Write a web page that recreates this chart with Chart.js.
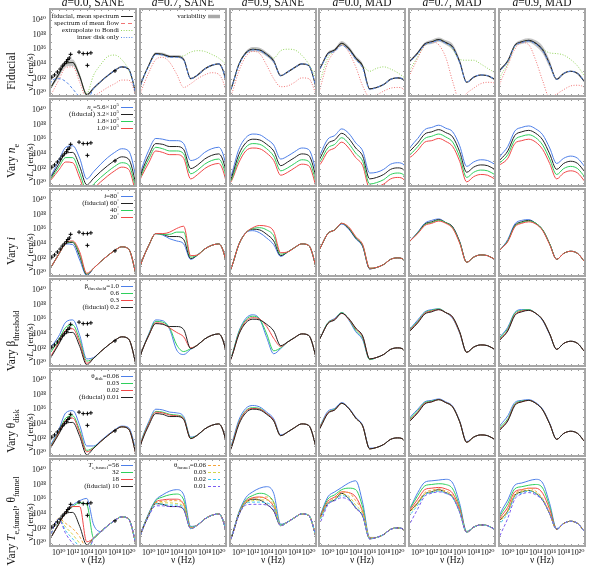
<!DOCTYPE html>
<html>
<head>
<meta charset="utf-8">
<script src="https://cdn.jsdelivr.net/npm/chart.js@4.4.0/dist/chart.umd.min.js"></script>
<style>
body { margin: 0; background: #fff; }
#wrap { position: relative; width: 598px; height: 567px; overflow: hidden; background: #fff;
  font-family: "Liberation Serif", "DejaVu Serif", serif; color: #111; }
#wrap canvas { position: absolute; }
.txt { position: absolute; white-space: nowrap; line-height: 1; }
.rot { transform: translate(-50%, -50%) rotate(-90deg); }
.ctr { transform: translateX(-50%); }
.txt sub, .txt sup, .leg sub, .leg sup { font-size: 70%; line-height: 0; }
.leg { position: absolute; white-space: nowrap; font-size: 7px; line-height: 7px; text-align: right; }
</style>
</head>
<body>
<div id="wrap"></div>
<script>
// log10(nu / Hz) sample points shared by every curve
const logNu = [8.6, 9, 10, 11, 12, 13, 14, 15, 16, 17, 18, 19, 20, 21, 21.2];

// each array below: one row per column (a=0.0 SANE ... a=0.9 MAD), values are log10(nu L_nu)
const fiducial = [
  [30.4, 31.0, 32.6, 34.1, 34.2, 32.3, 29.8, 30.7, 31.6, 32.4, 33.1, 33.6, 33.3, 30.0, 29.0],
  [30.4, 31.6, 33.8, 35.4, 35.3, 35.0, 35.0, 34.6, 32.0, 32.5, 33.3, 33.8, 34.0, 31.8, 30.5],
  [30.0, 30.9, 33.9, 35.5, 36.0, 35.9, 35.3, 34.4, 32.4, 32.9, 33.5, 34.0, 33.8, 31.0, 30.0],
  [32.9, 33.6, 35.4, 35.9, 36.8, 36.1, 34.8, 33.7, 30.6, 30.8, 31.2, 31.9, 32.1, 31.7, 30.5],
  [34.1, 34.5, 35.5, 36.7, 37.0, 37.3, 36.9, 36.3, 34.3, 31.5, 32.2, 32.5, 32.4, 31.9, 31.8],
  [32.9, 33.3, 34.4, 36.5, 37.0, 37.2, 36.8, 35.9, 34.0, 31.9, 32.7, 33.0, 32.7, 31.6, 31.4]
];
const meanFlow = [
  [29.3, 30.0, 31.8, 33.5, 33.6, 31.5, 29.3, 29.6, 30.2, 30.8, 31.3, 31.8, 31.8, 29.8, 29.0],
  [29.4, 30.5, 32.8, 34.6, 34.9, 34.2, 32.6, 30.8, 31.3, 32.0, 32.5, 32.8, 32.6, 30.5, 29.5],
  [29.4, 30.0, 33.0, 35.0, 35.7, 35.4, 33.8, 32.0, 30.9, 31.0, 31.5, 32.1, 32.0, 30.0, 29.4],
  [29.5, 31.0, 34.2, 35.7, 36.6, 35.6, 33.6, 31.0, 29.5, 29.8, 30.3, 30.7, 30.8, 30.4, 30.0],
  [32.0, 32.8, 34.8, 36.5, 37.0, 36.6, 34.9, 31.6, 29.0, 30.0, 30.7, 31.3, 31.5, 31.4, 31.2],
  [30.5, 31.6, 33.8, 36.0, 36.9, 36.6, 34.5, 31.7, 29.4, 29.9, 30.5, 31.0, 31.1, 30.8, 30.6]
];
const bondi = [
  [30.4, 31.0, 32.6, 34.1, 34.2, 32.3, 30.0, 32.5, 33.9, 35.0, 35.2, 34.6, 33.2, 30.5, 29.8],
  [30.4, 31.6, 33.8, 35.4, 35.3, 35.0, 35.0, 35.1, 35.6, 35.8, 35.7, 35.3, 34.8, 34.0, 33.8],
  [30.0, 30.9, 33.9, 35.5, 36.0, 35.9, 35.3, 34.8, 35.8, 36.0, 35.9, 35.2, 34.0, 32.2, 31.8],
  [30.8, 32.0, 34.8, 35.8, 36.7, 36.0, 34.8, 33.8, 33.0, 33.4, 33.6, 33.3, 32.8, 32.1, 31.9],
  [32.8, 33.4, 35.0, 36.5, 37.0, 37.3, 36.9, 36.0, 34.6, 34.5, 34.5, 34.0, 33.4, 32.8, 32.6],
  [31.4, 32.4, 34.0, 36.3, 37.0, 37.2, 36.8, 36.0, 35.5, 35.4, 35.2, 34.6, 33.7, 32.3, 32.0]
];
const innerDisk = [
  [30.6, 31.7, 32.0, 31.6, 30.6, 29.5, 29.0, 30.7, 31.6, 32.4, 33.1, 33.6, 33.3, 30.0, 29.0],
  [30.4, 31.6, 33.7, 35.3, 35.2, 34.9, 34.9, 34.5, 32.0, 32.5, 33.3, 33.8, 34.0, 31.8, 30.5],
  [30.0, 30.9, 33.8, 35.4, 35.9, 35.8, 35.2, 34.3, 32.4, 32.9, 33.5, 34.0, 33.8, 31.0, 30.0],
  [32.8, 33.5, 35.3, 35.7, 36.5, 35.9, 34.6, 33.4, 30.5, 30.8, 31.2, 31.9, 32.1, 31.7, 30.5],
  [34.0, 34.4, 35.4, 36.6, 36.9, 37.2, 36.8, 36.2, 34.2, 31.5, 32.2, 32.5, 32.4, 31.9, 31.8],
  [32.8, 33.2, 34.3, 36.4, 36.9, 37.1, 36.7, 35.8, 33.9, 31.9, 32.7, 33.0, 32.7, 31.6, 31.4]
];
const bandLow = [
  [30.3, 30.8, 32.2, 33.6, 33.7, 31.9, 29.6, 30.6, 31.5, 32.3, 33.0, 33.5, 33.2, 29.9, 28.9],
  [30.4, 31.5, 33.6, 35.2, 35.1, 34.8, 34.8, 34.4, 31.9, 32.4, 33.2, 33.7, 33.9, 31.7, 30.4],
  [30.0, 30.8, 33.7, 35.3, 35.7, 35.6, 35.0, 34.1, 32.3, 32.8, 33.4, 33.9, 33.7, 30.9, 29.9],
  [32.8, 33.5, 35.2, 35.7, 36.5, 35.8, 34.5, 33.4, 30.5, 30.7, 31.1, 31.8, 32.0, 31.6, 30.4],
  [34.0, 34.4, 35.3, 36.5, 36.7, 37.0, 36.6, 35.9, 34.0, 31.4, 32.1, 32.4, 32.3, 31.8, 31.7],
  [32.8, 33.2, 34.2, 36.3, 36.7, 36.9, 36.4, 35.4, 33.5, 31.8, 32.6, 32.9, 32.6, 31.5, 31.3]
];
const bandHigh = [
  [30.5, 31.2, 33.0, 34.5, 34.6, 32.7, 30.0, 30.8, 31.7, 32.5, 33.2, 33.7, 33.4, 30.1, 29.1],
  [30.4, 31.7, 34.0, 35.6, 35.5, 35.2, 35.2, 34.8, 32.1, 32.6, 33.4, 33.9, 34.1, 31.9, 30.6],
  [30.0, 31.0, 34.1, 35.7, 36.3, 36.2, 35.6, 34.7, 32.5, 33.0, 33.6, 34.1, 33.9, 31.1, 30.1],
  [33.0, 33.7, 35.6, 36.1, 37.1, 36.4, 35.1, 34.0, 30.7, 30.9, 31.3, 32.0, 32.2, 31.8, 30.6],
  [34.2, 34.6, 35.7, 36.9, 37.3, 37.6, 37.2, 36.7, 34.6, 31.6, 32.3, 32.6, 32.5, 32.0, 31.9],
  [33.0, 33.4, 34.6, 36.7, 37.3, 37.5, 37.2, 36.4, 34.5, 32.0, 32.8, 33.1, 32.8, 31.7, 31.5]
];

// n_e = 5.6e5, 1.8e5, 1.0e5
const neHigh = [
  [30.5, 31.2, 33.1, 34.9, 35.1, 33.4, 30.6, 31.6, 32.6, 33.5, 34.2, 34.7, 34.4, 31.0, 29.9],
  [30.6, 32.0, 34.5, 36.1, 36.0, 35.8, 35.8, 35.4, 33.1, 33.4, 34.2, 34.7, 34.9, 32.6, 31.2],
  [30.2, 31.3, 34.6, 36.2, 36.7, 36.6, 36.0, 35.2, 33.3, 33.7, 34.3, 34.8, 34.6, 31.8, 30.8],
  [33.2, 34.1, 36.0, 36.5, 37.4, 36.8, 35.5, 34.4, 31.4, 31.5, 31.9, 32.6, 32.8, 32.4, 31.2],
  [34.4, 35.0, 36.1, 37.3, 37.6, 37.9, 37.5, 37.0, 35.1, 32.3, 32.9, 33.2, 33.1, 32.6, 32.5],
  [33.2, 33.8, 35.0, 37.1, 37.6, 37.8, 37.4, 36.6, 34.8, 32.7, 33.4, 33.7, 33.4, 32.3, 32.1]
];
const neMid = [
  [30.3, 30.8, 32.2, 33.5, 33.5, 31.4, 29.0, 29.9, 30.8, 31.6, 32.3, 32.8, 32.5, 29.3, 28.3],
  [30.3, 31.3, 33.3, 34.9, 34.7, 34.4, 34.4, 34.0, 31.3, 31.8, 32.6, 33.1, 33.3, 31.1, 29.9],
  [29.9, 30.6, 33.3, 34.9, 35.4, 35.3, 34.7, 33.7, 31.7, 32.1, 32.7, 33.2, 33.0, 30.3, 29.4],
  [32.6, 33.1, 34.8, 35.3, 36.2, 35.4, 34.1, 33.0, 29.9, 30.1, 30.5, 31.2, 31.4, 31.0, 29.8],
  [33.8, 34.0, 35.0, 36.1, 36.4, 36.7, 36.3, 35.6, 33.6, 30.8, 31.5, 31.8, 31.7, 31.2, 31.1],
  [32.6, 32.9, 33.9, 35.9, 36.4, 36.6, 36.2, 35.2, 33.3, 31.2, 32.0, 32.3, 32.0, 30.9, 30.7]
];
const neLow = [
  [30.2, 30.6, 31.8, 32.9, 32.8, 30.7, 28.4, 29.3, 30.2, 31.0, 31.7, 32.2, 31.9, 28.7, 27.8],
  [30.2, 31.0, 32.8, 34.4, 34.2, 33.9, 33.9, 33.4, 30.6, 31.2, 32.0, 32.5, 32.7, 30.5, 29.4],
  [29.8, 30.4, 32.8, 34.4, 34.8, 34.7, 34.1, 33.1, 31.1, 31.5, 32.1, 32.6, 32.4, 29.7, 28.8],
  [32.3, 32.7, 34.3, 34.8, 35.6, 34.8, 33.5, 32.4, 29.3, 29.5, 29.9, 30.6, 30.8, 30.4, 29.2],
  [33.5, 33.6, 34.5, 35.6, 35.8, 36.1, 35.7, 35.0, 33.0, 30.2, 30.9, 31.2, 31.1, 30.6, 30.5],
  [32.4, 32.6, 33.4, 35.4, 35.8, 36.0, 35.6, 34.6, 32.7, 30.6, 31.4, 31.7, 31.4, 30.3, 30.1]
];

// inclination 80, 40, 20 deg
const incl80 = [
  [30.4, 31.0, 32.6, 34.0, 33.9, 31.8, 29.7, 30.7, 31.6, 32.4, 33.1, 33.6, 33.3, 30.0, 29.0],
  [30.4, 31.6, 33.8, 35.4, 35.2, 34.7, 34.4, 34.0, 31.9, 32.5, 33.3, 33.8, 34.0, 31.8, 30.5],
  [30.0, 30.9, 33.9, 35.5, 35.8, 35.5, 34.8, 33.9, 32.3, 32.9, 33.5, 34.0, 33.8, 31.0, 30.0],
  [32.9, 33.6, 35.4, 35.9, 36.7, 36.0, 34.7, 33.6, 30.6, 30.8, 31.2, 31.9, 32.1, 31.7, 30.5],
  [34.1, 34.5, 35.6, 36.8, 37.2, 37.4, 36.9, 36.3, 34.3, 31.5, 32.2, 32.5, 32.4, 31.9, 31.8],
  [32.9, 33.3, 34.6, 36.7, 37.2, 37.3, 36.8, 35.9, 34.0, 31.9, 32.7, 33.0, 32.7, 31.6, 31.4]
];
const incl40 = [
  [30.4, 31.0, 32.6, 34.1, 34.3, 32.6, 29.9, 30.7, 31.6, 32.4, 33.1, 33.6, 33.3, 30.0, 29.0],
  [30.4, 31.6, 33.8, 35.4, 35.3, 35.3, 35.6, 35.6, 32.2, 32.5, 33.3, 33.8, 34.0, 31.8, 30.5],
  [30.0, 30.9, 33.9, 35.5, 36.1, 36.2, 35.9, 35.1, 32.6, 32.9, 33.5, 34.0, 33.8, 31.0, 30.0],
  [32.9, 33.6, 35.4, 35.9, 36.8, 36.2, 34.9, 33.8, 30.7, 30.8, 31.2, 31.9, 32.1, 31.7, 30.5],
  [34.1, 34.5, 35.5, 36.6, 36.9, 37.2, 36.9, 36.2, 34.2, 31.5, 32.2, 32.5, 32.4, 31.9, 31.8],
  [32.9, 33.3, 34.4, 36.4, 36.9, 37.1, 36.8, 35.9, 34.0, 31.9, 32.7, 33.0, 32.7, 31.6, 31.4]
];
const incl20 = [
  [30.4, 31.0, 32.6, 34.1, 34.4, 32.9, 30.0, 30.7, 31.6, 32.4, 33.1, 33.6, 33.3, 30.0, 29.0],
  [30.4, 31.6, 33.8, 35.4, 35.4, 35.6, 36.1, 36.4, 32.4, 32.5, 33.3, 33.8, 34.0, 31.8, 30.5],
  [30.0, 30.9, 33.9, 35.5, 36.2, 36.5, 36.4, 35.7, 32.8, 32.9, 33.5, 34.0, 33.8, 31.0, 30.0],
  [32.9, 33.6, 35.4, 35.9, 36.8, 36.3, 35.0, 33.9, 30.7, 30.8, 31.2, 31.9, 32.1, 31.7, 30.5],
  [34.1, 34.5, 35.4, 36.5, 36.8, 37.1, 36.8, 36.1, 34.1, 31.5, 32.2, 32.5, 32.4, 31.9, 31.8],
  [32.9, 33.3, 34.3, 36.3, 36.8, 37.0, 36.7, 35.8, 33.9, 31.9, 32.7, 33.0, 32.7, 31.6, 31.4]
];

// beta_threshold = 1.0, 0.6, 0.3
const beta10 = [
  [32.0, 32.4, 33.7, 35.6, 35.9, 33.8, 30.6, 30.8, 31.6, 32.4, 33.1, 33.6, 33.3, 30.0, 29.0],
  [30.4, 31.6, 34.0, 35.9, 35.8, 34.6, 31.8, 31.2, 31.9, 32.5, 33.3, 33.8, 34.0, 31.8, 30.5],
  [30.0, 31.0, 34.3, 36.1, 36.6, 36.0, 33.5, 31.3, 32.0, 32.9, 33.5, 34.0, 33.8, 31.0, 30.0],
  [32.9, 33.6, 35.5, 36.1, 36.9, 35.9, 34.3, 33.2, 30.5, 30.8, 31.2, 31.9, 32.1, 31.7, 30.5],
  [34.3, 34.8, 35.9, 37.0, 37.3, 37.4, 36.9, 36.1, 34.1, 31.5, 32.2, 32.5, 32.4, 31.9, 31.8],
  [33.2, 33.7, 34.9, 36.9, 37.3, 37.3, 36.8, 35.8, 33.9, 31.9, 32.7, 33.0, 32.7, 31.6, 31.4]
];
const beta06 = [
  [31.2, 31.7, 33.2, 34.9, 35.2, 33.2, 30.3, 30.7, 31.6, 32.4, 33.1, 33.6, 33.3, 30.0, 29.0],
  [30.4, 31.6, 33.9, 35.7, 35.6, 34.8, 32.5, 31.6, 32.0, 32.5, 33.3, 33.8, 34.0, 31.8, 30.5],
  [30.0, 31.0, 34.2, 35.9, 36.4, 36.0, 34.0, 31.7, 32.1, 32.9, 33.5, 34.0, 33.8, 31.0, 30.0],
  [32.9, 33.6, 35.5, 36.0, 36.9, 36.0, 34.5, 33.4, 30.5, 30.8, 31.2, 31.9, 32.1, 31.7, 30.5],
  [34.2, 34.7, 35.7, 36.9, 37.2, 37.4, 36.9, 36.2, 34.2, 31.5, 32.2, 32.5, 32.4, 31.9, 31.8],
  [33.1, 33.6, 34.7, 36.8, 37.2, 37.3, 36.8, 35.9, 34.0, 31.9, 32.7, 33.0, 32.7, 31.6, 31.4]
];
const beta03 = [
  [30.7, 31.2, 32.8, 34.5, 34.7, 32.8, 30.0, 30.7, 31.6, 32.4, 33.1, 33.6, 33.3, 30.0, 29.0],
  [30.4, 31.6, 33.8, 35.5, 35.4, 34.8, 34.2, 33.6, 32.1, 32.5, 33.3, 33.8, 34.0, 31.8, 30.5],
  [30.0, 30.9, 34.0, 35.7, 36.2, 36.0, 35.0, 33.4, 32.3, 32.9, 33.5, 34.0, 33.8, 31.0, 30.0],
  [32.9, 33.6, 35.4, 36.0, 36.8, 36.0, 34.7, 33.6, 30.6, 30.8, 31.2, 31.9, 32.1, 31.7, 30.5],
  [34.1, 34.6, 35.6, 36.8, 37.1, 37.3, 36.9, 36.2, 34.2, 31.5, 32.2, 32.5, 32.4, 31.9, 31.8],
  [33.0, 33.4, 34.5, 36.6, 37.1, 37.2, 36.8, 35.9, 34.0, 31.9, 32.7, 33.0, 32.7, 31.6, 31.4]
];

// theta_disk = 0.06, 0.03, 0.02
const disk06 = [
  [30.7, 31.4, 33.2, 35.5, 35.8, 33.8, 31.0, 31.0, 31.7, 32.5, 33.2, 33.7, 33.5, 30.4, 29.3],
  [30.5, 31.9, 34.3, 36.0, 35.9, 35.6, 35.5, 35.0, 32.2, 32.5, 33.3, 33.8, 34.0, 31.8, 30.5],
  [30.2, 31.3, 34.5, 36.1, 36.5, 36.3, 35.6, 34.7, 32.5, 32.9, 33.5, 34.0, 33.8, 31.0, 30.0],
  [33.1, 33.9, 35.7, 36.1, 36.9, 36.2, 34.9, 33.8, 30.7, 30.8, 31.2, 31.9, 32.1, 31.7, 30.5],
  [34.5, 35.0, 36.0, 37.0, 37.2, 37.4, 37.0, 36.4, 34.4, 31.6, 32.2, 32.5, 32.4, 31.9, 31.8],
  [33.3, 33.9, 35.1, 36.9, 37.2, 37.3, 36.9, 36.0, 34.1, 31.9, 32.7, 33.0, 32.7, 31.6, 31.4]
];
const disk03 = [
  [30.5, 31.2, 32.9, 34.8, 35.1, 33.1, 30.4, 30.8, 31.6, 32.4, 33.1, 33.6, 33.3, 30.1, 29.1],
  [30.4, 31.8, 34.1, 35.7, 35.6, 35.3, 35.2, 34.8, 32.1, 32.5, 33.3, 33.8, 34.0, 31.8, 30.5],
  [30.1, 31.1, 34.2, 35.8, 36.2, 36.1, 35.4, 34.5, 32.4, 32.9, 33.5, 34.0, 33.8, 31.0, 30.0],
  [33.0, 33.8, 35.5, 36.0, 36.8, 36.1, 34.8, 33.7, 30.6, 30.8, 31.2, 31.9, 32.1, 31.7, 30.5],
  [34.3, 34.8, 35.8, 36.9, 37.1, 37.3, 36.9, 36.3, 34.3, 31.5, 32.2, 32.5, 32.4, 31.9, 31.8],
  [33.1, 33.6, 34.7, 36.7, 37.1, 37.2, 36.8, 35.9, 34.0, 31.9, 32.7, 33.0, 32.7, 31.6, 31.4]
];
const disk02 = [
  [30.5, 31.1, 32.8, 34.5, 34.8, 32.8, 30.2, 30.7, 31.6, 32.4, 33.1, 33.6, 33.3, 30.0, 29.0],
  [30.4, 31.7, 34.0, 35.6, 35.5, 35.2, 35.1, 34.7, 32.0, 32.5, 33.3, 33.8, 34.0, 31.8, 30.5],
  [30.0, 31.0, 34.1, 35.7, 36.1, 36.0, 35.4, 34.5, 32.4, 32.9, 33.5, 34.0, 33.8, 31.0, 30.0],
  [33.0, 33.7, 35.5, 35.9, 36.8, 36.1, 34.8, 33.7, 30.6, 30.8, 31.2, 31.9, 32.1, 31.7, 30.5],
  [34.2, 34.6, 35.6, 36.8, 37.0, 37.3, 36.9, 36.3, 34.3, 31.5, 32.2, 32.5, 32.4, 31.9, 31.8],
  [33.0, 33.4, 34.5, 36.6, 37.0, 37.2, 36.8, 35.9, 34.0, 31.9, 32.7, 33.0, 32.7, 31.6, 31.4]
];

// T_e,funnel = 56, 32, 18
const funnelT56 = [
  [30.4, 31.0, 32.7, 34.3, 35.2, 35.8, 36.1, 32.5, 31.6, 32.4, 33.1, 33.6, 33.3, 30.0, 29.0],
  [30.4, 31.7, 34.1, 35.9, 36.6, 37.1, 37.3, 36.6, 32.3, 32.5, 33.3, 33.8, 34.0, 31.8, 30.5],
  [30.0, 31.0, 34.2, 36.2, 37.0, 37.5, 37.7, 36.8, 32.6, 32.9, 33.5, 34.0, 33.8, 31.0, 30.0],
  [33.0, 34.0, 36.3, 37.0, 37.6, 38.2, 38.5, 35.5, 30.8, 30.8, 31.2, 31.9, 32.1, 31.7, 30.5],
  [34.4, 35.0, 36.9, 38.3, 38.5, 38.6, 38.7, 38.2, 35.4, 31.6, 32.2, 32.5, 32.4, 31.9, 31.8],
  [33.2, 34.2, 35.9, 37.9, 38.2, 38.5, 38.7, 38.2, 35.4, 32.0, 32.7, 33.0, 32.7, 31.6, 31.4]
];
const funnelT32 = [
  [30.4, 31.0, 32.7, 34.2, 35.0, 35.5, 35.3, 30.7, 31.6, 32.4, 33.1, 33.6, 33.3, 30.0, 29.0],
  [30.4, 31.7, 34.0, 35.8, 36.3, 36.6, 36.7, 35.9, 32.2, 32.5, 33.3, 33.8, 34.0, 31.8, 30.5],
  [30.0, 31.0, 34.1, 35.9, 36.5, 36.8, 36.6, 35.6, 32.5, 32.9, 33.5, 34.0, 33.8, 31.0, 30.0],
  [33.0, 33.9, 36.0, 36.6, 37.3, 37.5, 37.3, 34.9, 30.7, 30.8, 31.2, 31.9, 32.1, 31.7, 30.5],
  [34.3, 34.9, 36.5, 37.8, 38.0, 38.1, 38.0, 37.4, 35.0, 31.6, 32.2, 32.5, 32.4, 31.9, 31.8],
  [33.1, 33.9, 35.4, 37.4, 37.7, 37.9, 38.0, 37.5, 35.0, 31.9, 32.7, 33.0, 32.7, 31.6, 31.4]
];
const funnelT18 = [
  [30.4, 31.0, 32.6, 34.2, 35.0, 35.0, 30.2, 30.7, 31.6, 32.4, 33.1, 33.6, 33.3, 30.0, 29.0],
  [30.4, 31.6, 33.9, 35.6, 35.9, 36.0, 36.0, 35.3, 32.1, 32.5, 33.3, 33.8, 34.0, 31.8, 30.5],
  [30.0, 30.9, 34.0, 35.7, 36.2, 36.3, 36.0, 35.0, 32.4, 32.9, 33.5, 34.0, 33.8, 31.0, 30.0],
  [32.9, 33.8, 35.7, 36.3, 37.0, 36.9, 36.3, 34.3, 30.7, 30.8, 31.2, 31.9, 32.1, 31.7, 30.5],
  [34.2, 34.7, 36.0, 37.3, 37.5, 37.6, 37.4, 36.8, 34.7, 31.5, 32.2, 32.5, 32.4, 31.9, 31.8],
  [33.0, 33.6, 34.9, 37.0, 37.3, 37.5, 37.5, 36.8, 34.6, 31.9, 32.7, 33.0, 32.7, 31.6, 31.4]
];

// theta_funnel = 0.06, 0.03, 0.02, 0.01 (dashed)
const funnelTh06 = [
  [30.0, 31.5, 33.4, 32.7, 32.0, 30.9, 29.4, 30.7, 31.6, 32.4, 33.1, 33.6, 33.3, 30.0, 29.0],
  [30.4, 31.6, 33.8, 35.5, 35.7, 35.8, 35.8, 35.3, 32.1, 32.5, 33.3, 33.8, 34.0, 31.8, 30.5],
  [30.0, 30.9, 33.9, 35.6, 36.1, 36.2, 36.3, 35.5, 32.4, 32.9, 33.5, 34.0, 33.8, 31.0, 30.0],
  [32.9, 33.6, 35.5, 36.1, 37.0, 36.9, 35.8, 34.3, 30.7, 30.8, 31.2, 31.9, 32.1, 31.7, 30.5],
  [34.1, 34.5, 35.6, 36.9, 37.2, 37.4, 37.1, 36.5, 34.4, 31.5, 32.2, 32.5, 32.4, 31.9, 31.8],
  [32.9, 33.3, 34.5, 36.7, 37.2, 37.5, 37.1, 36.1, 34.1, 31.9, 32.7, 33.0, 32.7, 31.6, 31.4]
];
const funnelTh03 = [
  [30.0, 31.5, 33.3, 32.2, 31.2, 30.0, 29.0, 30.7, 31.6, 32.4, 33.1, 33.6, 33.3, 30.0, 29.0],
  [30.4, 31.6, 33.8, 35.4, 35.5, 35.5, 35.4, 35.0, 32.0, 32.5, 33.3, 33.8, 34.0, 31.8, 30.5],
  [30.0, 30.9, 33.9, 35.5, 35.8, 35.9, 35.9, 35.2, 32.4, 32.9, 33.5, 34.0, 33.8, 31.0, 30.0],
  [32.8, 33.5, 35.4, 36.0, 36.7, 36.4, 35.2, 34.0, 30.7, 30.8, 31.2, 31.9, 32.1, 31.7, 30.5],
  [33.9, 34.3, 35.4, 36.7, 37.0, 37.2, 36.9, 36.3, 34.3, 31.5, 32.2, 32.5, 32.4, 31.9, 31.8],
  [32.7, 33.1, 34.3, 36.5, 37.0, 37.2, 36.9, 36.0, 34.0, 31.9, 32.7, 33.0, 32.7, 31.6, 31.4]
];
const funnelTh02 = [
  [30.0, 31.5, 33.3, 31.7, 30.6, 29.5, 28.7, 30.7, 31.6, 32.4, 33.1, 33.6, 33.3, 30.0, 29.0],
  [30.4, 31.6, 33.8, 35.4, 35.3, 35.2, 35.2, 34.8, 32.0, 32.5, 33.3, 33.8, 34.0, 31.8, 30.5],
  [30.0, 30.9, 33.9, 35.4, 35.6, 35.6, 35.5, 34.8, 32.4, 32.9, 33.5, 34.0, 33.8, 31.0, 30.0],
  [32.7, 33.4, 35.4, 35.9, 36.5, 36.1, 34.9, 33.8, 30.6, 30.8, 31.2, 31.9, 32.1, 31.7, 30.5],
  [33.5, 34.0, 35.2, 36.6, 36.9, 37.1, 36.8, 36.2, 34.2, 31.5, 32.2, 32.5, 32.4, 31.9, 31.8],
  [32.3, 32.8, 34.1, 36.3, 36.8, 37.1, 36.8, 35.9, 34.0, 31.9, 32.7, 33.0, 32.7, 31.6, 31.4]
];
const funnelTh01 = [
  [30.0, 31.5, 33.3, 31.3, 30.0, 29.0, 28.5, 30.7, 31.6, 32.4, 33.1, 33.6, 33.3, 30.0, 29.0],
  [30.4, 31.6, 33.7, 35.1, 35.1, 35.0, 35.0, 34.6, 32.0, 32.5, 33.3, 33.8, 34.0, 31.8, 30.5],
  [30.0, 30.9, 33.8, 35.2, 35.3, 35.3, 35.2, 34.5, 32.4, 32.9, 33.5, 34.0, 33.8, 31.0, 30.0],
  [32.4, 33.0, 35.2, 35.8, 36.2, 35.9, 34.8, 33.7, 30.6, 30.8, 31.2, 31.9, 32.1, 31.7, 30.5],
  [32.2, 32.9, 34.7, 36.4, 36.8, 37.0, 36.8, 36.2, 34.2, 31.5, 32.2, 32.5, 32.4, 31.9, 31.8],
  [30.4, 31.3, 33.4, 36.0, 36.7, 36.9, 36.6, 35.8, 34.0, 31.9, 32.7, 33.0, 32.7, 31.6, 31.4]
];

// observed points (log10 nu, log10 nu L_nu), only in the a=0.0 SANE column
const obsNu = [9.0, 9.4, 9.8, 10.2, 10.5, 10.8, 11.1, 11.3, 11.5, 11.7, 12.9, 13.5, 14.1, 14.6, 14.1, 18.05];
const obsL = [32.2, 32.5, 32.9, 33.3, 33.7, 34.0, 34.3, 34.6, 34.8, 35.3, 35.6, 35.4, 35.4, 35.5, 33.8, 33.05];

const columnTitles = ['0.0, SANE', '0.7, SANE', '0.9, SANE', '0.0, MAD', '0.7, MAD', '0.9, MAD'];
const rowTitles = ['Fiducial', 'Vary <i>n</i><sub>e</sub>', 'Vary <i>i</i>', 'Vary β<sub>threshold</sub>',
  'Vary θ<sub>disk</sub>', 'Vary <i>T</i><sub>e,funnel</sub>, θ<sub>funnel</sub>'];
const xLabelExp = [10, 12, 14, 16, 18, 20];
const yLabelExp = [30, 32, 34, 36, 38, 40];
const xRange = [8.6, 21.2];
const yRange = [29.5, 41.6];

const BLACK = '#222222', BLUE = '#4d7fe8', GREEN = '#2ecf5c', RED = '#f04848';
const RED_DOT = '#f07474', GREEN_DOT = '#92d45a', BLUE_DASH = '#5a8ae8';
const ORANGE = '#f4a43a', YELLOW = '#d2d64a', CYAN = '#3fc8f2', PURPLE = '#7b5cf0';
const DASH = [3, 2], DOT = [1, 1.6];
const SERIF = '"Liberation Serif", "DejaVu Serif", serif';

const colLeft = [49, 139, 229, 318, 408, 498];
const rowTop = [8, 98, 188, 278, 368, 458];
const panelW = 88, panelH = 89, yAxisW = 49, xAxisH = 16;

const SUP = {'0': '⁰', '1': '¹', '2': '²', '3': '³', '4': '⁴', '5': '⁵', '6': '⁶', '7': '⁷', '8': '⁸', '9': '⁹'};
function expLabel(v) {
    return '10' + String(Math.round(Math.log10(v))).split('').map(d => SUP[d]).join('');
}

function pts(logs) {
    return logs.map((v, i) => ({x: Math.pow(10, logNu[i]), y: Math.pow(10, v)}));
}

function curve(logs, color, dash, width) {
    return {
        data: pts(logs), borderColor: color, borderWidth: width || 1, borderDash: dash || [],
        pointRadius: 0, fill: false, cubicInterpolationMode: 'monotone'
    };
}

function obsSet() {
    return {
        data: obsNu.map((v, i) => ({x: Math.pow(10, v), y: Math.pow(10, obsL[i])})),
        showLine: false, pointStyle: 'cross', pointRadius: 2, borderColor: '#000', borderWidth: 1
    };
}

// first dataset in each list is drawn on top
const rowSets = [
    c => [
        curve(innerDisk[c], BLUE_DASH, DASH),
        curve(fiducial[c], BLACK, [], 1.1),
        curve(meanFlow[c], RED_DOT, DOT),
        curve(bondi[c], GREEN_DOT, DOT),
        Object.assign(curve(bandHigh[c], 'rgba(0,0,0,0)', [], 0), {fill: '+1', backgroundColor: 'rgba(150,150,150,0.55)'}),
        curve(bandLow[c], 'rgba(0,0,0,0)', [], 0)
    ],
    c => [curve(fiducial[c], BLACK), curve(neHigh[c], BLUE), curve(neMid[c], GREEN), curve(neLow[c], RED)],
    c => [curve(incl20[c], RED), curve(incl40[c], GREEN), curve(fiducial[c], BLACK), curve(incl80[c], BLUE)],
    c => [curve(fiducial[c], BLACK), curve(beta03[c], RED), curve(beta06[c], GREEN), curve(beta10[c], BLUE)],
    c => [curve(fiducial[c], BLACK), curve(disk02[c], RED), curve(disk03[c], GREEN), curve(disk06[c], BLUE)],
    c => [
        curve(funnelTh01[c], PURPLE, DASH), curve(funnelTh02[c], CYAN, DASH),
        curve(funnelTh03[c], YELLOW, DASH), curve(funnelTh06[c], ORANGE, DASH),
        curve(fiducial[c], BLACK), curve(funnelT18[c], RED), curve(funnelT32[c], GREEN), curve(funnelT56[c], BLUE)
    ]
];

const frameTicks = {
    id: 'frameTicks',
    afterDraw(chart) {
        const {ctx, chartArea: a, scales: {x, y}} = chart;
        ctx.save();
        ctx.strokeStyle = '#9c9c9c';
        ctx.lineWidth = 1;
        ctx.beginPath();
        for (let e = 9; e <= 21; e++) {
            const px = Math.round(x.getPixelForValue(Math.pow(10, e))) + 0.5;
            ctx.moveTo(px, a.top); ctx.lineTo(px, a.top + 3);
            ctx.moveTo(px, a.bottom); ctx.lineTo(px, a.bottom - 3);
        }
        for (let e = 30; e <= 41; e++) {
            const py = Math.round(y.getPixelForValue(Math.pow(10, e))) + 0.5;
            ctx.moveTo(a.left, py); ctx.lineTo(a.left + 3, py);
            ctx.moveTo(a.right, py); ctx.lineTo(a.right - 3, py);
        }
        ctx.stroke();
        ctx.strokeStyle = '#a6a6a6';
        ctx.lineWidth = 2;
        ctx.strokeRect(a.left + 1, a.top + 1, a.width - 2, a.height - 2);
        ctx.restore();
    }
};

function axis(lo, hi, labels, shown, size, isX) {
    return {
        type: 'logarithmic', bounds: 'data', min: Math.pow(10, lo), max: Math.pow(10, hi), display: shown,
        grid: {display: false, drawTicks: false}, border: {display: false},
        afterBuildTicks: s => { s.ticks = labels.map(e => ({value: Math.pow(10, e)})); },
        afterFit: s => {
            if (isX) { s.height = size; } else { s.width = size; }
            s.paddingLeft = 0; s.paddingRight = 0; s.paddingTop = 0; s.paddingBottom = 0;
        },
        ticks: {
            callback: expLabel, autoSkip: false, maxRotation: 0, minRotation: 0,
            padding: isX ? 1 : 3, color: '#111', font: {family: SERIF, size: 8}
        }
    };
}

const wrap = document.getElementById('wrap');

function addText(html, x, y, cls, size) {
    const d = document.createElement('div');
    d.className = 'txt ' + cls;
    d.style.left = x + 'px';
    d.style.top = y + 'px';
    d.style.fontSize = size + 'px';
    d.innerHTML = html;
    wrap.appendChild(d);
}

function legend(items, right, top) {
    items.forEach((it, i) => {
        const y = top + i * 7.3;
        const t = document.createElement('div');
        t.className = 'leg';
        t.style.right = (598 - right) + 'px';
        t.style.top = (y - 3.5) + 'px';
        t.innerHTML = it[0];
        wrap.appendChild(t);
        const s = document.createElementNS('http://www.w3.org/2000/svg', 'svg');
        s.setAttribute('width', 14);
        s.setAttribute('height', 5);
        s.style.position = 'absolute';
        s.style.left = (right + 2) + 'px';
        s.style.top = (y - 2.5) + 'px';
        const ln = document.createElementNS('http://www.w3.org/2000/svg', 'line');
        ln.setAttribute('x1', 0); ln.setAttribute('x2', 12);
        ln.setAttribute('y1', 2.5); ln.setAttribute('y2', 2.5);
        ln.setAttribute('stroke', it[1]);
        ln.setAttribute('stroke-width', it[3] || 1);
        if (it[2]) ln.setAttribute('stroke-dasharray', it[2]);
        s.appendChild(ln);
        wrap.appendChild(s);
    });
}

for (let r = 0; r < 6; r++) {
    for (let c = 0; c < 6; c++) {
        const L = c === 0 ? yAxisW : 0;
        const B = r === 5 ? xAxisH : 0;
        const cv = document.createElement('canvas');
        cv.width = panelW + L;
        cv.height = panelH + B;
        cv.style.left = (colLeft[c] - L) + 'px';
        cv.style.top = rowTop[r] + 'px';
        wrap.appendChild(cv);
        const datasets = rowSets[r](c);
        if (c === 0) datasets.unshift(obsSet());
        new Chart(cv, {
            type: 'line',
            data: {datasets: datasets},
            options: {
                responsive: false, animation: false, events: [], devicePixelRatio: 1,
                layout: {padding: 0, autoPadding: false},
                plugins: {legend: {display: false}, tooltip: {enabled: false}},
                scales: {
                    x: axis(xRange[0], xRange[1], xLabelExp, B > 0, B, true),
                    y: axis(yRange[0], yRange[1], yLabelExp, L > 0, L, false)
                }
            },
            plugins: [frameTicks]
        });
    }
}

columnTitles.forEach((t, c) => addText('<i>a</i>=' + t, colLeft[c] + 44, -3, 'ctr', 11.5));
columnTitles.forEach((t, c) => addText('ν (Hz)', colLeft[c] + 44, 556, 'ctr', 9.5));
rowTitles.forEach((t, r) => {
    addText(t, 12, rowTop[r] + 63, 'rot', 11.5);
    addText('ν<i>L</i><sub>ν</sub> (erg/s)', 30, rowTop[r] + 64, 'rot', 9);
});

legend([
    ['fiducial, mean spectrum', BLACK],
    ['spectrum of mean flow', RED_DOT, '4,3'],
    ['extrapolate to Bondi', GREEN_DOT, '1,1.6'],
    ['inner disk only', BLUE_DASH, '1,1.6']
], 119, 16);
legend([['variability', '#a8a8a8', null, 3.5]], 206, 16);
legend([
    ['<i>n</i><sub>e</sub>=5.6×10<sup>5</sup>', BLUE],
    ['(fiducial) 3.2×10<sup>5</sup>', BLACK],
    ['1.8×10<sup>5</sup>', GREEN],
    ['1.0×10<sup>5</sup>', RED]
], 119, 107);
legend([
    ['<i>i</i>=80<sup>°</sup>', BLUE],
    ['(fiducial) 60<sup>°</sup>', BLACK],
    ['40<sup>°</sup>', GREEN],
    ['20<sup>°</sup>', RED]
], 119, 196);
legend([
    ['β<sub>threshold</sub>=1.0', BLUE],
    ['0.6', GREEN],
    ['0.3', RED],
    ['(fiducial) 0.2', BLACK]
], 119, 286);
legend([
    ['θ<sub>disk</sub>=0.06', BLUE],
    ['0.03', GREEN],
    ['0.02', RED],
    ['(fiducial) 0.01', BLACK]
], 119, 376);
legend([
    ['<i>T</i><sub>e,funnel</sub>=56', BLUE],
    ['32', GREEN],
    ['18', RED],
    ['(fiducial) 10', BLACK]
], 119, 465);
legend([
    ['θ<sub>funnel</sub>=0.06', ORANGE, '3,2'],
    ['0.03', YELLOW, '3,2'],
    ['0.02', CYAN, '3,2'],
    ['0.01', PURPLE, '3,2']
], 206, 465);
</script>
</body>
</html>
